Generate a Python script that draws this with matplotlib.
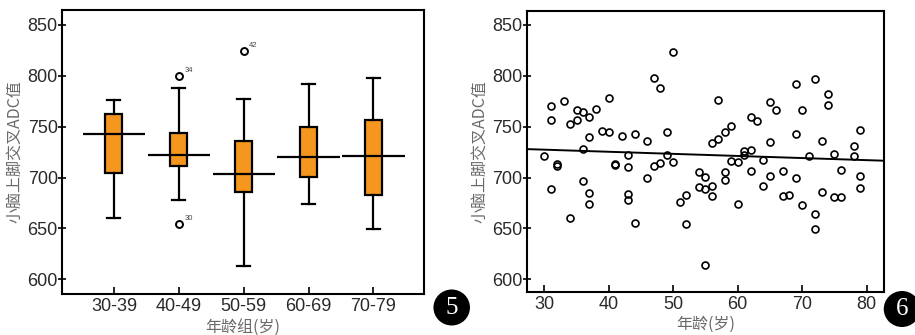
import numpy as np
import matplotlib
matplotlib.use('Agg')
import matplotlib.pyplot as plt
from matplotlib.patches import Ellipse

plt.rcParams['font.family'] = ['Liberation Sans', 'Noto Sans CJK SC', 'DejaVu Sans']

# left panel: box plot by age group
groups = ['30-39', '40-49', '50-59', '60-69', '70-79']
q1 = [704, 711, 686, 701, 683]
med = [743, 722, 703, 720, 721]
q3 = [762, 744, 736, 750, 757]
whislo = [660, 678, 613, 674, 649]
whishi = [776, 788, 777, 792, 798]
outlier_vals = [[], [800, 654], [824], [], []]
outlier_ids = [[], ['34', '30'], ['42'], [], []]

# right panel: scatter of ADC vs age
ages = [30, 31, 31, 31, 32, 32, 33, 34, 34, 35, 35, 36, 36, 36,
        37, 37, 37, 37, 38, 39, 40, 40, 41, 41, 42, 43, 43, 43, 43,
        44, 44, 46, 46, 47, 47, 48, 48, 49, 49, 50, 50, 51, 52, 52,
        54, 54, 55, 55, 55, 56, 56, 56, 57, 57, 58, 58, 58, 59, 59,
        60, 60, 61, 61, 62, 62, 62, 63, 64, 64, 65, 65, 65, 66, 67,
        67, 68, 69, 69, 69, 70, 70, 71, 72, 72, 72, 73, 73, 74, 74,
        75, 75, 76, 76, 78, 78, 79, 79, 79]
adc = [721, 770, 757, 689, 713, 711, 775, 753, 660, 766, 757, 764, 728, 697,
       760, 740, 685, 674, 767, 746, 778, 745, 713, 712, 741, 722, 710, 684, 678,
       743, 655, 736, 700, 798, 711, 788, 714, 745, 722, 823, 715, 676, 683, 654,
       705, 691, 701, 689, 614, 734, 692, 682, 776, 738, 745, 705, 698, 751, 716,
       715, 674, 726, 722, 760, 727, 706, 756, 717, 692, 774, 735, 702, 766, 706,
       682, 683, 792, 743, 700, 766, 673, 721, 797, 664, 649, 736, 686, 782, 771,
       723, 681, 707, 681, 731, 721, 747, 702, 690]
fit_slope = -0.206
fit_intercept = 733.6

ORANGE = '#F5961E'
TICK_C = '#2a2a2a'
LABEL_C = '#6a6a6a'
CJK = ['Noto Sans CJK SC', 'DejaVu Sans']

fig = plt.figure(figsize=(9.15, 3.35), dpi=100)
ax1 = fig.add_axes([0.0678, 0.1224, 0.3956, 0.8478])
ax2 = fig.add_axes([0.5756, 0.1293, 0.3908, 0.838])

pos = np.arange(1, len(groups) + 1)
stats = []
for i in range(len(groups)):
    stats.append(dict(med=med[i], q1=q1[i], q3=q3[i], whislo=whislo[i],
                      whishi=whishi[i], fliers=outlier_vals[i]))
ax1.bxp(stats, positions=pos, widths=0.26, capwidths=0.2, patch_artist=True,
        boxprops=dict(facecolor=ORANGE, edgecolor='black', linewidth=1.6),
        whiskerprops=dict(color='black', linewidth=1.6),
        capprops=dict(color='black', linewidth=1.6),
        medianprops=dict(visible=False),
        flierprops=dict(marker='o', markerfacecolor='none', markeredgecolor='black',
                        markersize=5, markeredgewidth=1.4))
ax1.hlines(med, pos - 0.48, pos + 0.48, color='black', linewidth=1.6, zorder=5)
for i in range(len(groups)):
    for v, lab in zip(outlier_vals[i], outlier_ids[i]):
        ax1.annotate(lab, (pos[i], v), xytext=(4, 3), textcoords='offset points',
                     fontsize=5.5, color='#444444')
ax1.set_xlim(0.2, 5.78)
ax1.set_ylim(585.5, 864.7)
ax1.set_xticks(pos)
ax1.set_xticklabels(groups)
ax1.set_xlabel('年龄组(岁)', fontsize=11.5, color=LABEL_C, family=CJK, labelpad=2.5)

ax2.plot(ages, adc, linestyle='none', marker='o', markerfacecolor='none',
         markeredgecolor='black', markersize=5, markeredgewidth=1.2)
xl = np.array([27.27, 82.73])
ax2.plot(xl, fit_intercept + fit_slope * xl, color='black', linewidth=1.4)
ax2.set_xlim(27.27, 82.73)
ax2.set_ylim(587.8, 863.8)
ax2.set_xticks([30, 40, 50, 60, 70, 80])
ax2.set_xlabel('年龄(岁)', fontsize=11.5, color=LABEL_C, family=CJK, labelpad=2.5)

for ax in (ax1, ax2):
    ax.set_yticks([600, 650, 700, 750, 800, 850])
    ax.set_ylabel('小脑上脚交叉ADC值', fontsize=11.5, color=LABEL_C,
                  family=CJK, labelpad=3)
    for s in ax.spines.values():
        s.set_linewidth(1.5)
    ax.tick_params(axis='y', direction='inout', length=6, width=1.2, pad=0,
                   labelsize=13, labelcolor=TICK_C)
    ax.tick_params(axis='x', direction='in', length=5, width=1.2, pad=3,
                   labelsize=13, labelcolor=TICK_C)

# circled panel numbers
for cx, cy, num in [(451.7, 307.5, '5'), (902, 309, '6')]:
    fig.add_artist(Ellipse((cx / 915, 1 - cy / 335), 36.5 / 915, 36 / 335,
                           transform=fig.transFigure, facecolor='black',
                           edgecolor='none'))
    fig.text(cx / 915, 1 - cy / 335, num, color='white', fontsize=18,
             family='Liberation Serif', ha='center', va='center')

plt.savefig('out.png', dpi=100)
